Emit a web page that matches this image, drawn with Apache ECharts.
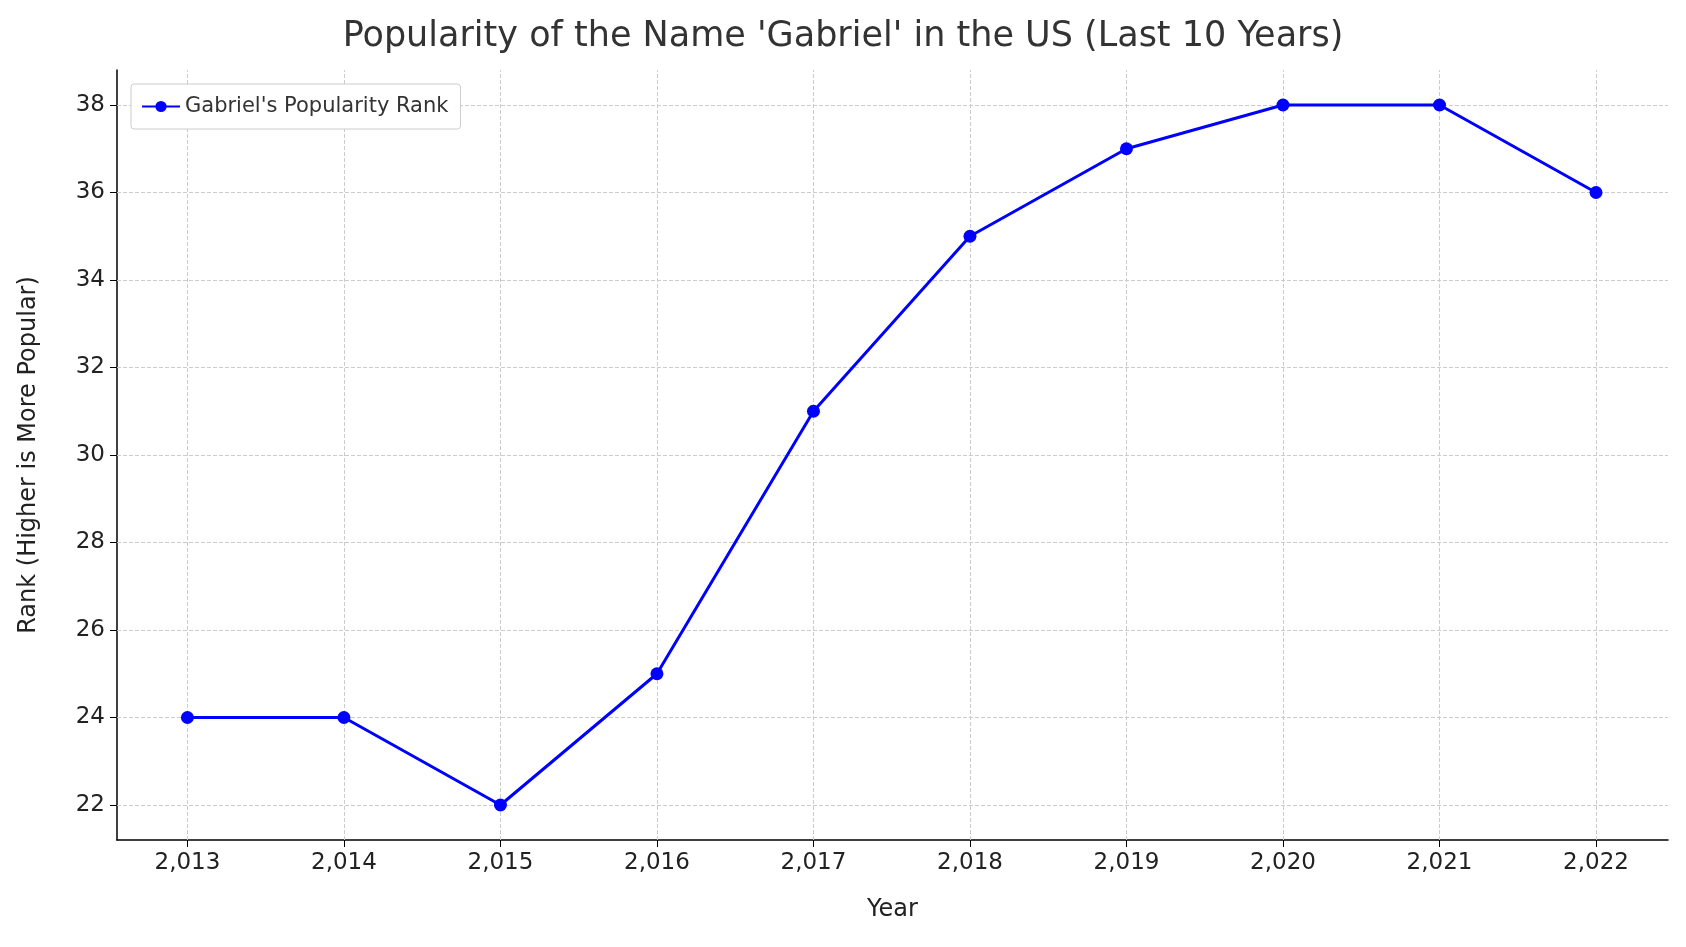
<!DOCTYPE html>
<html><head><meta charset="utf-8">
<script src="https://cdn.jsdelivr.net/npm/echarts@6/dist/echarts.min.js"></script>
<style>html,body{margin:0;padding:0;background:#fff}#c{width:1686px;height:947px}</style>
</head><body><div id="c"></div>
<script>
const years = [2013,2014,2015,2016,2017,2018,2019,2020,2021,2022];
const ranks = [24,24,22,25,31,35,37,38,38,36];
const yTicks = [22,24,26,28,30,32,34,36,38];
const chart = echarts.init(document.getElementById('c'));
const font = 'DejaVu Sans';
const grid = {type:'dashed',color:'#ccc',width:1};
chart.setOption({
  animation:false,
  title:{text:"Popularity of the Name 'Gabriel' in the US (Last 10 Years)",left:'center',top:14,
    textStyle:{fontFamily:font,fontSize:35,fontWeight:'normal',color:'#333'}},
  grid:{left:117,right:18,top:70,bottom:107},
  legend:{left:131,top:84,orient:'vertical',itemWidth:38,itemHeight:14,
    backgroundColor:'#fff',borderColor:'#ccc',borderWidth:1,borderRadius:3,padding:[12,12,12,10],
    textStyle:{fontFamily:font,fontSize:21,color:'#333'}},
  xAxis:{type:'value',min:2012.55,max:2022.46,name:'Year',nameLocation:'middle',nameGap:58,
    nameTextStyle:{fontFamily:font,fontSize:24,color:'#222'},
    axisLine:{lineStyle:{color:'#000',width:1.5}},
    axisTick:{length:7,lineStyle:{color:'#000'},customValues:years},
    axisLabel:{fontFamily:font,fontSize:23,color:'#222',margin:12,customValues:years},
    splitLine:{show:false}},
  yAxis:{type:'value',min:21.2,max:38.8,
    name:'Rank (Higher is More Popular)',nameLocation:'middle',nameGap:76,
    nameTextStyle:{fontFamily:font,fontSize:24,color:'#222'},
    axisLine:{show:true,lineStyle:{color:'#000',width:1.5}},
    axisTick:{show:true,length:7,lineStyle:{color:'#000'},customValues:yTicks},
    axisLabel:{fontFamily:font,fontSize:23,color:'#222',margin:12,customValues:yTicks},
    splitLine:{show:false}},
  series:[{name:"Gabriel's Popularity Rank",type:'line',data:years.map((y,i)=>[y,ranks[i]]),
    symbol:'circle',symbolSize:13,color:'#0000ff',lineStyle:{width:3,color:'#0000ff'},
    itemStyle:{color:'#0000ff'},z:5,
    markLine:{silent:true,symbol:'none',label:{show:false},lineStyle:grid,z:1,
      data:years.map(y=>({xAxis:y})).concat(yTicks.map(v=>({yAxis:v})))}}]
});
</script></body></html>
